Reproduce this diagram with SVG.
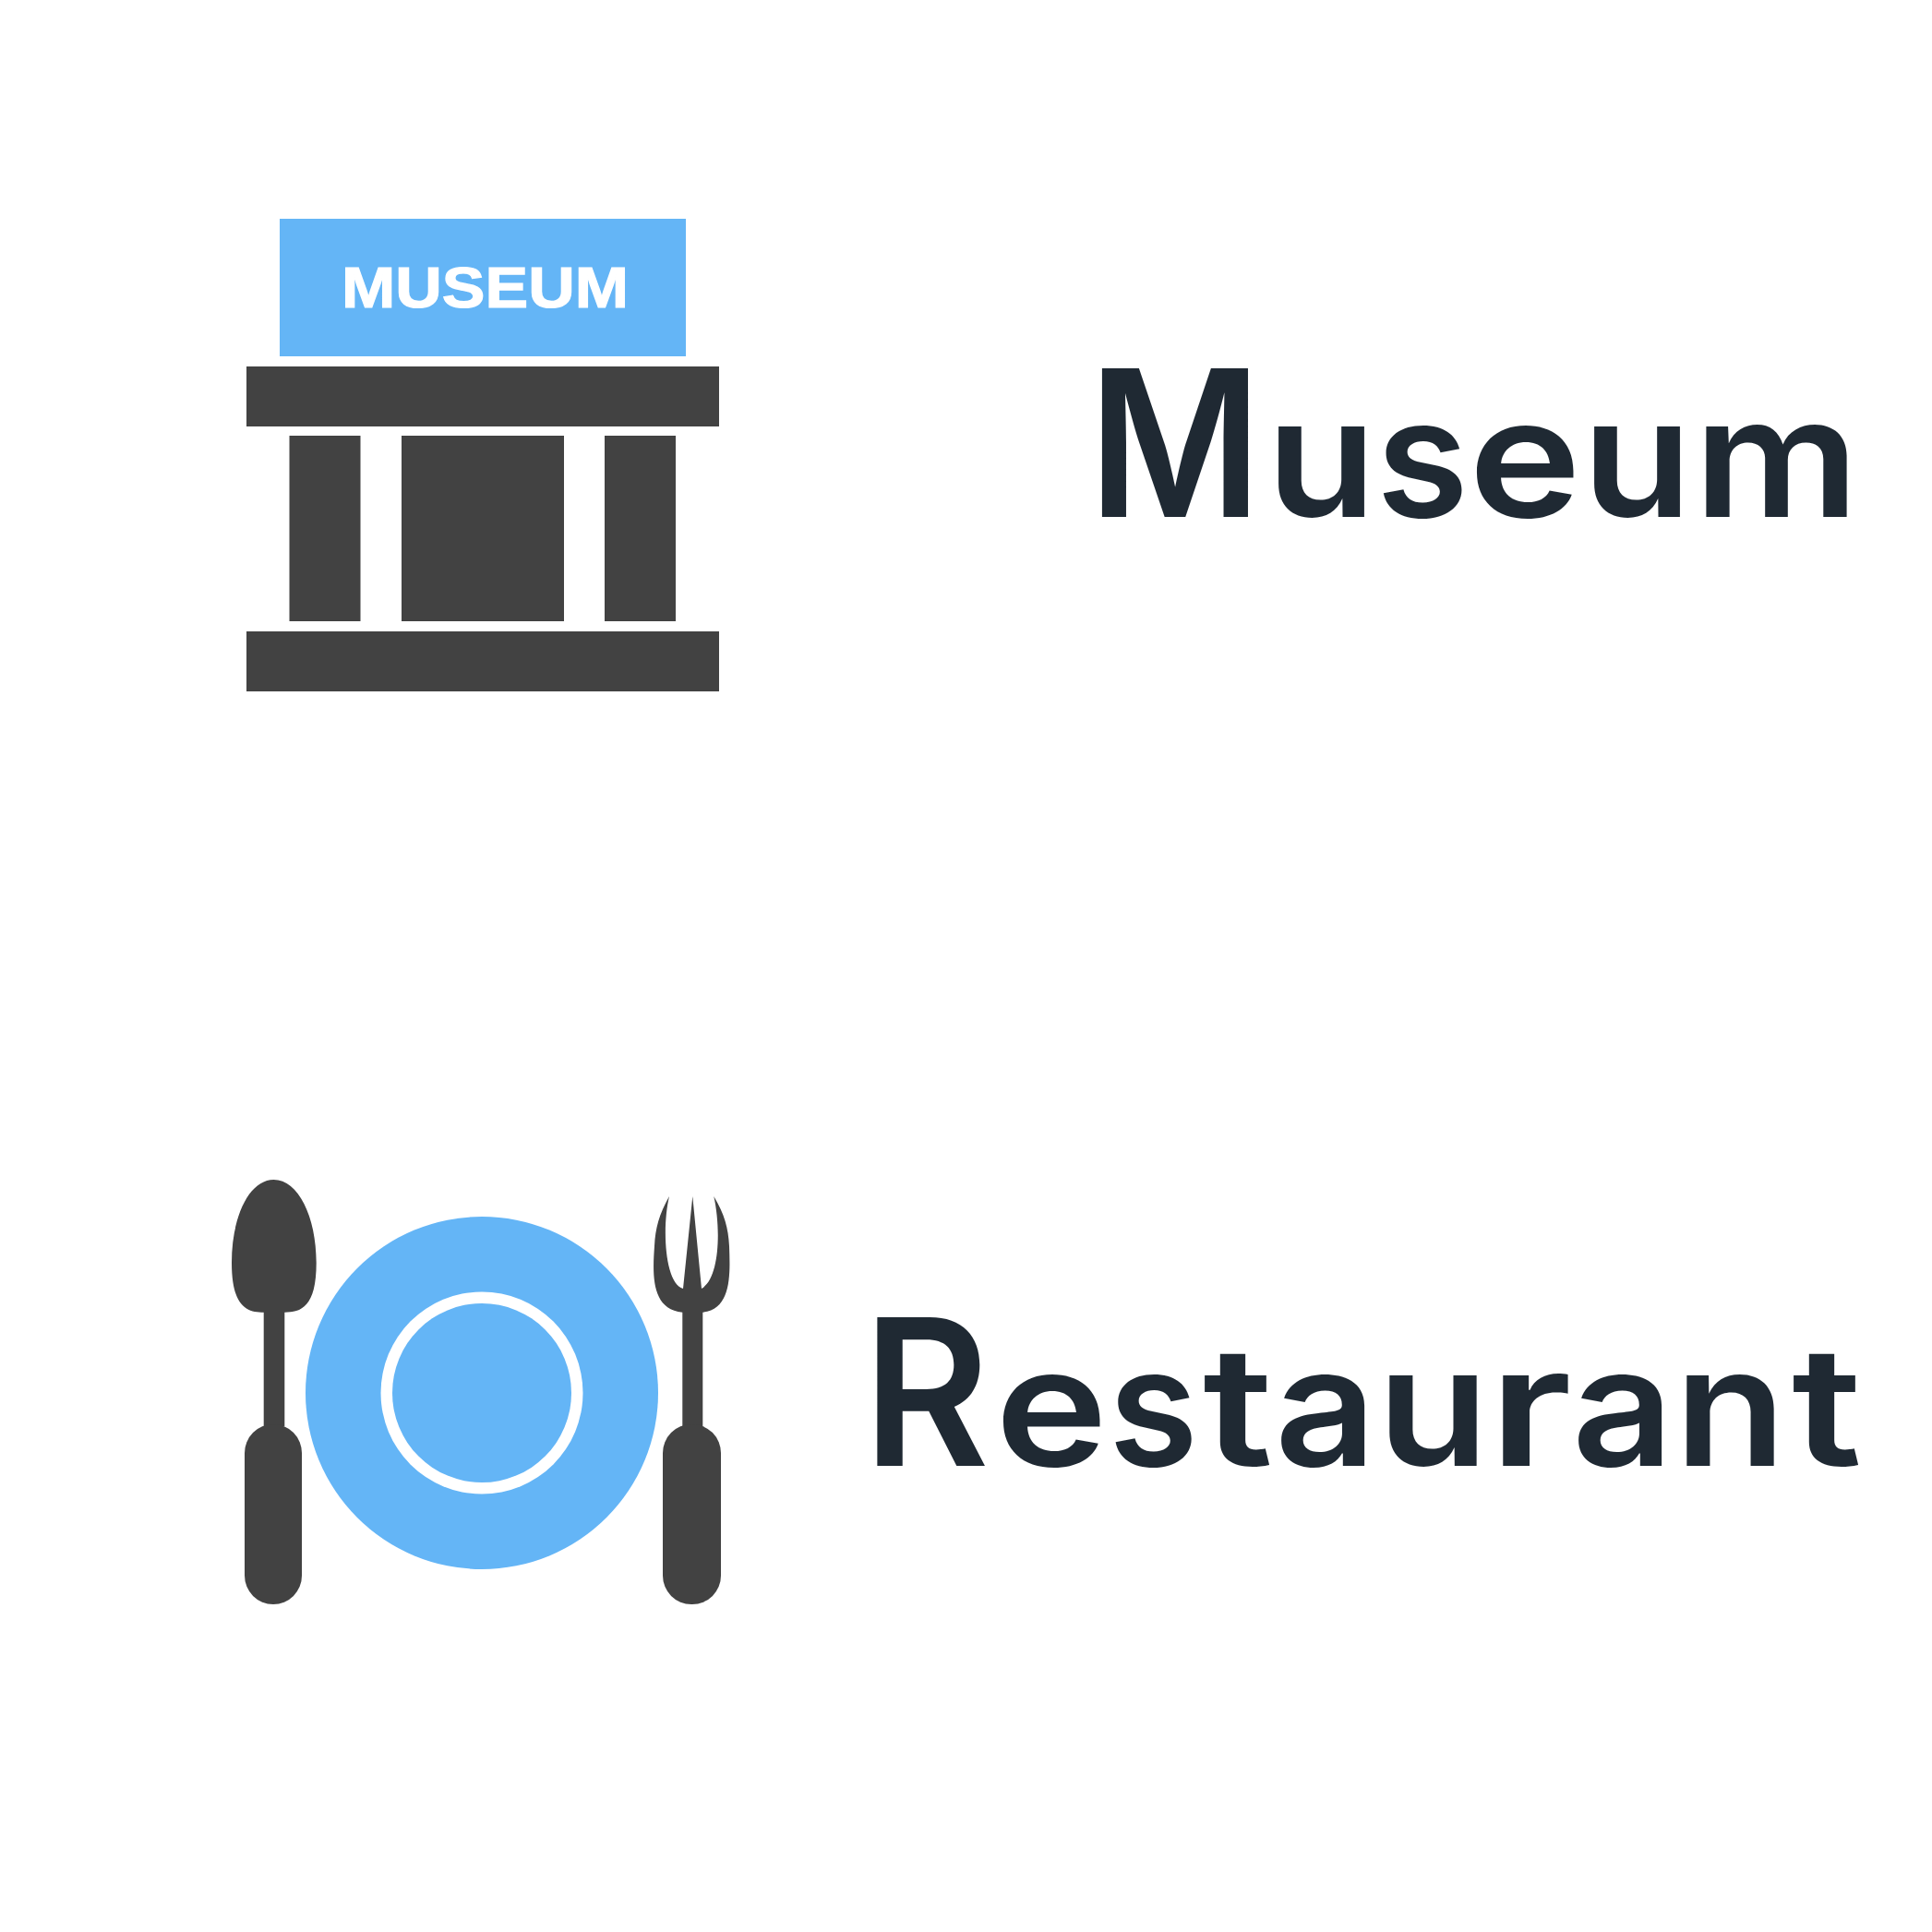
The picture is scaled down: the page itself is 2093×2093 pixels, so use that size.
<svg xmlns="http://www.w3.org/2000/svg" width="2093" height="2093" viewBox="0 0 2093 2093">
<style>
.d{fill:#424242}
.b{fill:#64b5f6}
.w{fill:#fff}
.l{fill:#1f2933;font-family:"Inter","Liberation Sans",sans-serif;font-weight:600;font-size:180px}
.big{font-size:221px}
.sign{fill:#fff;stroke:#fff;stroke-width:1.2;font-family:"Liberation Sans",Arial,sans-serif;font-weight:700;font-size:63px}
</style>
<rect width="2093" height="2093" fill="#fff"/>
<g id="museum-icon">
<rect class="b" x="303" y="237" width="440" height="149"/>
<text class="sign" x="370" y="333" textLength="311" lengthAdjust="spacingAndGlyphs">MUSEUM</text>
<rect class="d" x="267" y="397" width="512" height="65"/>
<rect class="d" x="313.500" y="472" width="77" height="201"/>
<rect class="d" x="435" y="472" width="176" height="201"/>
<rect class="d" x="655" y="472" width="77" height="201"/>
<rect class="d" x="267" y="684" width="512" height="65"/>
</g>
<g id="museum-label">
<text class="l" y="560"><tspan class="big" x="1179" textLength="188" lengthAdjust="spacingAndGlyphs">M</tspan><tspan x="1372" textLength="119" lengthAdjust="spacingAndGlyphs">u</tspan><tspan x="1491" textLength="100" lengthAdjust="spacingAndGlyphs">s</tspan><tspan x="1591" textLength="122" lengthAdjust="spacingAndGlyphs">e</tspan><tspan x="1714" textLength="119" lengthAdjust="spacingAndGlyphs">u</tspan><tspan x="1835" textLength="179" lengthAdjust="spacingAndGlyphs">m</tspan></text>
</g>
<g id="restaurant-icon">
<circle class="b" cx="522" cy="1509" r="191"/>
<circle class="w" cx="522" cy="1509" r="109.500"/>
<circle class="b" cx="522" cy="1509" r="97"/>
<path class="d" d="M296.500 1278C270 1278 251 1318 251 1368C251 1416 268 1421.700 285.700 1421.700V1545H308.300V1421.700C326 1421.700 342.700 1416 342.700 1368C342.700 1318 323 1278 296.500 1278Z"/>
<rect class="d" x="265" y="1543" width="62" height="195" rx="31"/>
<path class="d" d="M725 1296C714 1316 710 1330 709 1350C707 1380 705 1418 739.300 1421.700V1545H761.300V1421.700C793 1418 791 1380 790 1350C789 1330 785 1316 773.300 1296C781 1330 780 1385 760 1396L750.300 1296L740 1396C720 1390 717 1330 725 1296Z"/>
<rect class="d" x="718" y="1543" width="63" height="195" rx="31"/>
</g>
<g id="restaurant-label">
<text class="l" y="1588"><tspan class="big" x="935" textLength="137" lengthAdjust="spacingAndGlyphs">R</tspan><tspan x="1078" textLength="122" lengthAdjust="spacingAndGlyphs">e</tspan><tspan x="1201" textLength="97" lengthAdjust="spacingAndGlyphs">s</tspan><tspan x="1303" textLength="76" lengthAdjust="spacingAndGlyphs">t</tspan><tspan x="1381" textLength="110" lengthAdjust="spacingAndGlyphs">a</tspan><tspan x="1492" textLength="121" lengthAdjust="spacingAndGlyphs">u</tspan><tspan x="1613" textLength="90" lengthAdjust="spacingAndGlyphs">r</tspan><tspan x="1703" textLength="110" lengthAdjust="spacingAndGlyphs">a</tspan><tspan x="1814" textLength="121" lengthAdjust="spacingAndGlyphs">n</tspan><tspan x="1941" textLength="76" lengthAdjust="spacingAndGlyphs">t</tspan></text>
</g>
</svg>
